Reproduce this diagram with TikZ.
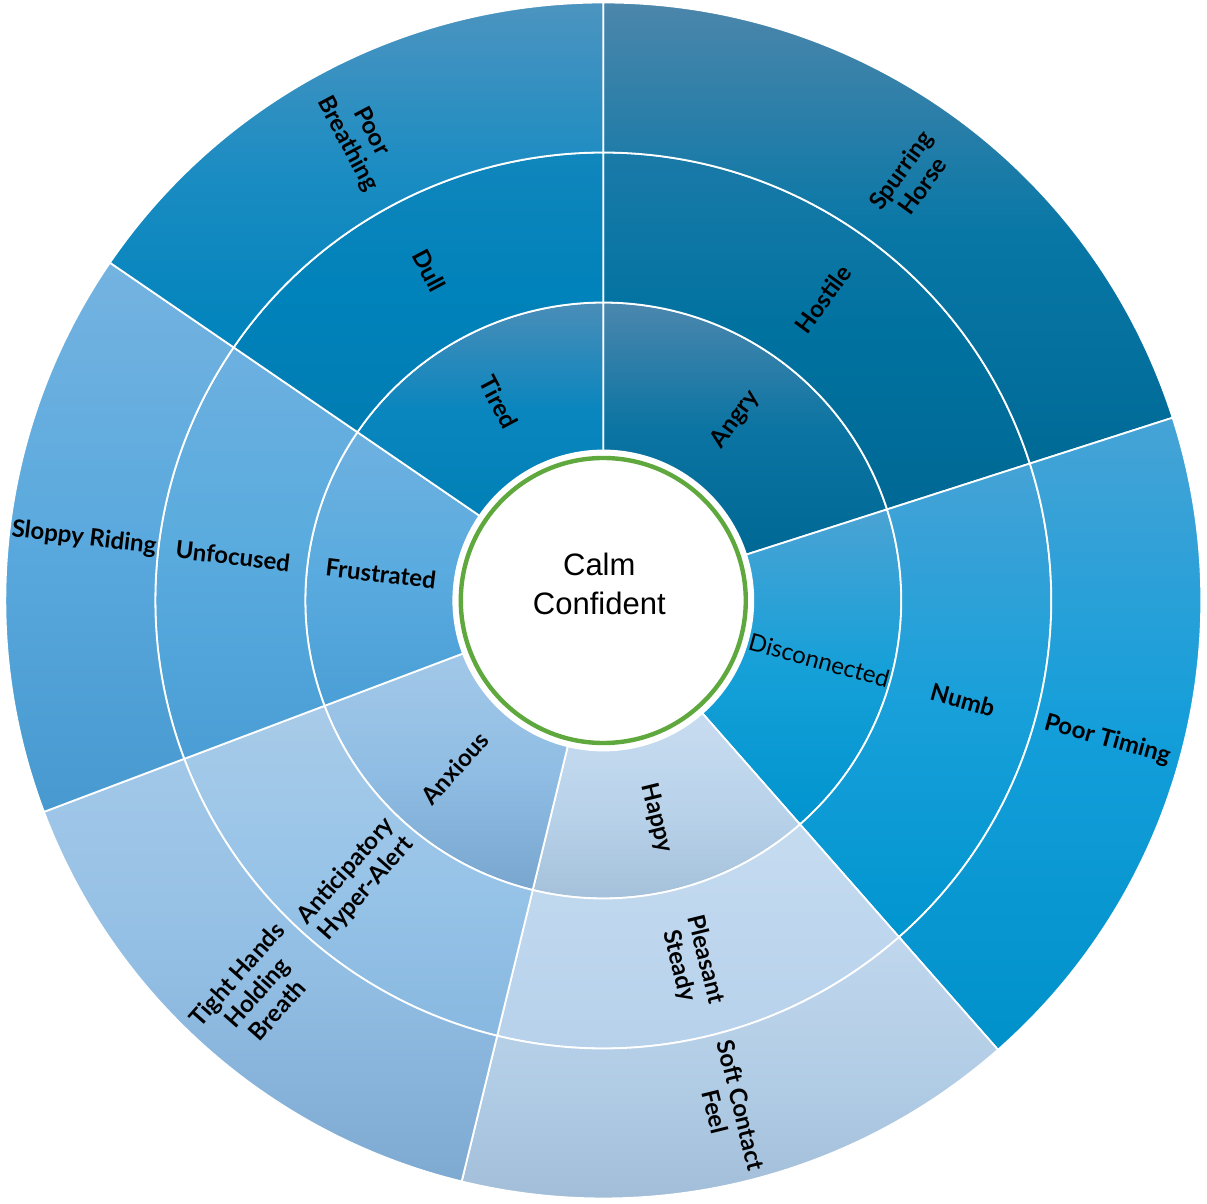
\documentclass[tikz,border=0pt]{standalone}
\usepackage{fontspec}
\setmainfont{Lato}
\newfontfamily\arial{Liberation Sans}
% top / middle / bottom of each segment
\definecolor{angT}{HTML}{4B87AE}\definecolor{angM}{HTML}{0B74A2}\definecolor{angB}{HTML}{006894}
\definecolor{hosT}{HTML}{1A7AA8}\definecolor{hosM}{HTML}{0072A0}\definecolor{hosB}{HTML}{006894}
\definecolor{spuT}{HTML}{4C86AB}\definecolor{spuM}{HTML}{0877A6}\definecolor{spuB}{HTML}{006A96}
\definecolor{disT}{HTML}{4BA3D4}\definecolor{disM}{HTML}{16A0D8}\definecolor{disB}{HTML}{0094CE}
\definecolor{numT}{HTML}{45A2D6}\definecolor{numM}{HTML}{19A0DA}\definecolor{numB}{HTML}{0095CF}
\definecolor{timT}{HTML}{46A3D6}\definecolor{timM}{HTML}{139EDA}\definecolor{timB}{HTML}{0091CA}
\definecolor{hapT}{HTML}{C8DCF0}\definecolor{hapM}{HTML}{B8D2EA}\definecolor{hapB}{HTML}{A2BDD7}
\definecolor{pleT}{HTML}{C5DBEF}\definecolor{pleM}{HTML}{BDD6EE}\definecolor{pleB}{HTML}{B6D0EA}
\definecolor{sofT}{HTML}{C0D7ED}\definecolor{sofM}{HTML}{B1CCE5}\definecolor{sofB}{HTML}{9FBAD5}
\definecolor{anxT}{HTML}{A2C8E8}\definecolor{anxM}{HTML}{90BDE4}\definecolor{anxB}{HTML}{78A6CE}
\definecolor{antT}{HTML}{A8CBE8}\definecolor{antM}{HTML}{98C4E8}\definecolor{antB}{HTML}{88B8E0}
\definecolor{tigT}{HTML}{A2C8E8}\definecolor{tigM}{HTML}{92BEE4}\definecolor{tigB}{HTML}{7EAAD2}
\definecolor{fruT}{HTML}{6EB1E0}\definecolor{fruM}{HTML}{5AABDF}\definecolor{fruB}{HTML}{4A9FD6}
\definecolor{unfT}{HTML}{6CB0E0}\definecolor{unfM}{HTML}{59ABDE}\definecolor{unfB}{HTML}{4A9ED5}
\definecolor{sloT}{HTML}{74B3E0}\definecolor{sloM}{HTML}{5AA9DE}\definecolor{sloB}{HTML}{4799CF}
\definecolor{tirT}{HTML}{4A8DB8}\definecolor{tirM}{HTML}{0A86BE}\definecolor{tirB}{HTML}{0080B6}
\definecolor{dulT}{HTML}{1086BC}\definecolor{dulM}{HTML}{0082BA}\definecolor{dulB}{HTML}{007DB3}
\definecolor{brtT}{HTML}{4C94C0}\definecolor{brtM}{HTML}{1A8CC2}\definecolor{brtB}{HTML}{0083BC}
\definecolor{ringgreen}{HTML}{5EA83E}
\begin{document}
\begin{tikzpicture}[x=1pt,y=1pt,
    seg/.style={draw=white,line width=1.8pt},
    lbl/.style={font=\bfseries\fontsize{24}{27}\selectfont,align=center,inner sep=0pt}]
\useasboundingbox (-603.3,-603.5) rectangle (603.7,600.5);

% inner ring
\path[seg,top color=angT,bottom color=angB,middle color=angM] (90:150) arc[start angle=90,end angle=17.8,radius=150] -- (17.8:298) arc[start angle=17.8,end angle=90,radius=298] -- cycle;
\path[seg,top color=disT,bottom color=disB,middle color=disM] (17.8:150) arc[start angle=17.8,end angle=-48.7,radius=150] -- (-48.7:298) arc[start angle=-48.7,end angle=17.8,radius=298] -- cycle;
\path[seg,top color=hapT,bottom color=hapB,middle color=hapM] (-48.7:150) arc[start angle=-48.7,end angle=-103.7,radius=150] -- (-103.7:298) arc[start angle=-103.7,end angle=-48.7,radius=298] -- cycle;
\path[seg,top color=anxT,bottom color=anxB,middle color=anxM] (-103.7:150) arc[start angle=-103.7,end angle=-159.3,radius=150] -- (-159.3:298) arc[start angle=-159.3,end angle=-103.7,radius=298] -- cycle;
\path[seg,top color=fruT,bottom color=fruB,middle color=fruM] (-159.3:150) arc[start angle=-159.3,end angle=-214.4,radius=150] -- (-214.4:298) arc[start angle=-214.4,end angle=-159.3,radius=298] -- cycle;
\path[seg,top color=tirT,bottom color=tirB,middle color=tirM] (-214.4:150) arc[start angle=-214.4,end angle=-270,radius=150] -- (-270:298) arc[start angle=-270,end angle=-214.4,radius=298] -- cycle;

% middle ring
\path[seg,top color=hosT,bottom color=hosB,middle color=hosM] (90:298) arc[start angle=90,end angle=17.8,radius=298] -- (17.8:448) arc[start angle=17.8,end angle=90,radius=448] -- cycle;
\path[seg,top color=numT,bottom color=numB,middle color=numM] (17.8:298) arc[start angle=17.8,end angle=-48.7,radius=298] -- (-48.7:448) arc[start angle=-48.7,end angle=17.8,radius=448] -- cycle;
\path[seg,top color=pleT,bottom color=pleB,middle color=pleM] (-48.7:298) arc[start angle=-48.7,end angle=-103.7,radius=298] -- (-103.7:448) arc[start angle=-103.7,end angle=-48.7,radius=448] -- cycle;
\path[seg,top color=antT,bottom color=antB,middle color=antM] (-103.7:298) arc[start angle=-103.7,end angle=-159.3,radius=298] -- (-159.3:448) arc[start angle=-159.3,end angle=-103.7,radius=448] -- cycle;
\path[seg,top color=unfT,bottom color=unfB,middle color=unfM] (-159.3:298) arc[start angle=-159.3,end angle=-214.4,radius=298] -- (-214.4:448) arc[start angle=-214.4,end angle=-159.3,radius=448] -- cycle;
\path[seg,top color=dulT,bottom color=dulB,middle color=dulM] (-214.4:298) arc[start angle=-214.4,end angle=-270,radius=298] -- (-270:448) arc[start angle=-270,end angle=-214.4,radius=448] -- cycle;

% outer ring
\path[seg,top color=spuT,bottom color=spuB,middle color=spuM] (90:448) arc[start angle=90,end angle=17.8,radius=448] -- (17.8:598) arc[start angle=17.8,end angle=90,radius=598] -- cycle;
\path[seg,top color=timT,bottom color=timB,middle color=timM] (17.8:448) arc[start angle=17.8,end angle=-48.7,radius=448] -- (-48.7:598) arc[start angle=-48.7,end angle=17.8,radius=598] -- cycle;
\path[seg,top color=sofT,bottom color=sofB,middle color=sofM] (-48.7:448) arc[start angle=-48.7,end angle=-103.7,radius=448] -- (-103.7:598) arc[start angle=-103.7,end angle=-48.7,radius=598] -- cycle;
\path[seg,top color=tigT,bottom color=tigB,middle color=tigM] (-103.7:448) arc[start angle=-103.7,end angle=-159.3,radius=448] -- (-159.3:598) arc[start angle=-159.3,end angle=-103.7,radius=598] -- cycle;
\path[seg,top color=sloT,bottom color=sloB,middle color=sloM] (-159.3:448) arc[start angle=-159.3,end angle=-214.4,radius=448] -- (-214.4:598) arc[start angle=-214.4,end angle=-159.3,radius=598] -- cycle;
\path[seg,top color=brtT,bottom color=brtB,middle color=brtM] (-214.4:448) arc[start angle=-214.4,end angle=-270,radius=448] -- (-270:598) arc[start angle=-270,end angle=-214.4,radius=598] -- cycle;

% centre
\fill[white] (0,0) circle (150);
\draw[ringgreen,line width=4.4pt] (0,0) circle (142.5);
\node[font=\arial\fontsize{31}{39}\selectfont,align=center,inner sep=0pt] (calm) at (-4,17) {Calm\\Confident};

\node[lbl,rotate=53.9] (angry) at (53.9:224) {Angry};
\node[lbl,rotate=53.9] (hostile) at (53.9:373) {Hostile};
\node[lbl,rotate=53.9] (spurring) at (53.9:523) {Spurring\\Horse};
\node[lbl,font=\mdseries\fontsize{24}{27}\selectfont,rotate=-15.45] (disconnected) at (-15.45:224) {Disconnected};
\node[lbl,rotate=-15.45] (numb) at (-15.45:373) {Numb};
\node[lbl,rotate=-15.45] (timing) at (-15.45:523) {Poor Timing};
\node[lbl,rotate=-76.2] (happy) at (-76.2:224) {Happy};
\node[lbl,rotate=-76.2] (pleasant) at (-76.2:373) {Pleasant\\Steady};
\node[lbl,rotate=-76.2] (soft) at (-76.2:523) {Soft Contact\\Feel};
\node[lbl,rotate=48.5] (anxious) at (-131.5:224) {Anxious};
\node[lbl,rotate=48.5] (anticip) at (-131.5:373) {Anticipatory\\Hyper-Alert};
\node[lbl,rotate=48.5] (tight) at (-131.5:523) {Tight Hands\\Holding\\Breath};
\node[lbl,rotate=-6.85] (frustrated) at (173.15:224) {Frustrated};
\node[lbl,rotate=-6.85] (unfocused) at (173.15:373) {Unfocused};
\node[lbl,rotate=-6.85] (sloppy) at (173.15:523) {Sloppy Riding};
\node[lbl,rotate=-62.2] (tired) at (117.8:224) {Tired};
\node[lbl,rotate=-62.2] (dull) at (117.8:373) {Dull};
\node[lbl,rotate=-62.2] (breathing) at (117.8:523) {Poor\\Breathing};
\end{tikzpicture}
\end{document}
